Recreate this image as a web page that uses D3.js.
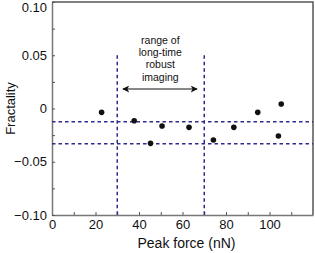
<!DOCTYPE html>
<html>
<head>
<meta charset="utf-8">
<script src="https://cdn.jsdelivr.net/npm/d3@7/dist/d3.min.js"></script>
<style>
  body { margin: 0; background: #fff; }
  svg { display: block; font-family: "Liberation Sans", Arial, sans-serif; }
  .axis path { stroke: #777; stroke-width: 1.5; }
  .axis line { stroke: #555; stroke-width: 1; }
  .axis text { font-size: 13px; fill: #111; }
</style>
</head>
<body>
<div id="chart"></div>
<script>
var peakForce = [22.8, 37.8, 45.3, 50.6, 63.0, 74.2, 83.6, 94.6, 104.1, 105.4];
var fractality = [-0.0036, -0.0115, -0.0327, -0.0164, -0.0177, -0.0296, -0.0177, -0.0036, -0.0258, 0.0042];

var xTicks = [0, 10, 20, 30, 40, 50, 60, 70, 80, 90, 100, 110];
var xLabels = [0, 20, 40, 60, 80, 100];
var yTicks = [-0.1, -0.075, -0.05, -0.025, 0, 0.025, 0.05, 0.075, 0.1];
var yLabels = [-0.1, -0.05, 0, 0.05, 0.1];

var rangeLines = [30, 70];           // vertical dashed, peak force
var bandLines = [-0.0125, -0.033];   // horizontal dashed, fractality
var arrowSpan = [32.6, 66.7];
var arrowLevel = 0.0183;
var noteLines = ["range of", "long-time", "robust", "imaging"];

var size = {width: 315, height: 253, left: 52, right: 313, top: 2, bottom: 215};

var xScale = d3.scaleLinear().domain([0, 120]).range([size.left, size.right]);
var yScale = d3.scaleLinear().domain([-0.1, 0.1]).range([size.bottom, size.top]);

var svg = d3.select("#chart").append("svg")
  .attr("width", size.width)
  .attr("height", size.height);

var dashColor = "#2e2a8e";

// frame top/right
svg.append("path")
  .attr("d", "M" + size.left + "," + size.top + "H" + size.right + "V" + size.bottom)
  .attr("fill", "none")
  .attr("stroke", "#555")
  .attr("stroke-width", 1.5);

var xAxis = d3.axisBottom(xScale)
  .tickValues(xTicks)
  .tickSizeInner(-3)
  .tickSizeOuter(0)
  .tickPadding(5)
  .tickFormat(d => xLabels.indexOf(d) >= 0 ? d : "");

var yAxis = d3.axisLeft(yScale)
  .tickValues(yTicks)
  .tickSizeInner(-3)
  .tickSizeOuter(0)
  .tickPadding(5)
  .tickFormat(d => {
    var lab = yLabels.find(v => Math.abs(v - d) < 1e-9);
    if (lab === undefined) return "";
    return lab === 0 ? "0" : d3.format(".2f")(lab);
  });

svg.append("g")
  .attr("class", "x axis")
  .attr("transform", "translate(0," + size.bottom + ")")
  .call(xAxis);

svg.append("g")
  .attr("class", "y axis")
  .attr("transform", "translate(" + size.left + ",0)")
  .call(yAxis)
  .selectAll("text")
  .filter(d => Math.abs(d - 0.1) < 1e-9)
  .attr("dy", "0.75em");

// dashed guide lines
svg.selectAll("line.vguide")
  .data(rangeLines)
  .enter().append("line")
  .attr("class", "vguide")
  .attr("x1", d => xScale(d)).attr("x2", d => xScale(d))
  .attr("y1", yScale(0.05)).attr("y2", yScale(-0.1))
  .attr("stroke", dashColor)
  .attr("stroke-width", 1.5)
  .attr("stroke-dasharray", "3.5,3");

svg.selectAll("line.hguide")
  .data(bandLines)
  .enter().append("line")
  .attr("class", "hguide")
  .attr("x1", xScale(0)).attr("x2", xScale(120))
  .attr("y1", d => yScale(d)).attr("y2", d => yScale(d))
  .attr("stroke", dashColor)
  .attr("stroke-width", 1.5)
  .attr("stroke-dasharray", "3.5,3");

// points
svg.selectAll("circle.pt")
  .data(peakForce.map((f, i) => ({x: f, y: fractality[i]})))
  .enter().append("circle")
  .attr("class", "pt")
  .attr("cx", d => xScale(d.x))
  .attr("cy", d => yScale(d.y))
  .attr("r", 2.8)
  .attr("fill", "#111");

// double arrow
var defs = svg.append("defs");
defs.append("marker")
  .attr("id", "head")
  .attr("viewBox", "0 0 10 10")
  .attr("refX", 9).attr("refY", 5)
  .attr("markerWidth", 8).attr("markerHeight", 7)
  .attr("markerUnits", "userSpaceOnUse")
  .attr("orient", "auto-start-reverse")
  .append("path")
  .attr("d", "M0,0L10,5L0,10L2.5,5Z")
  .attr("fill", "#111");

svg.append("line")
  .attr("x1", xScale(arrowSpan[0])).attr("x2", xScale(arrowSpan[1]))
  .attr("y1", yScale(arrowLevel)).attr("y2", yScale(arrowLevel))
  .attr("stroke", "#111")
  .attr("stroke-width", 1.2)
  .attr("marker-start", "url(#head)")
  .attr("marker-end", "url(#head)");

// annotation
var note = svg.append("text")
  .attr("text-anchor", "middle")
  .attr("font-size", "10.5px")
  .attr("fill", "#111");
note.selectAll("tspan")
  .data(noteLines)
  .enter().append("tspan")
  .attr("x", xScale(49.8))
  .attr("y", (d, i) => yScale(arrowLevel) - 45 + i * 12.2)
  .text(d => d);

// axis titles
svg.append("text")
  .attr("x", (size.left + size.right) / 2 + 4)
  .attr("y", 248)
  .attr("text-anchor", "middle")
  .attr("font-size", "14px")
  .attr("fill", "#111")
  .text("Peak force (nN)");

svg.append("text")
  .attr("transform", "translate(15," + yScale(0) + ") rotate(-90)")
  .attr("text-anchor", "middle")
  .attr("font-size", "13px")
  .attr("fill", "#111")
  .text("Fractality");
</script>
</body>
</html>
